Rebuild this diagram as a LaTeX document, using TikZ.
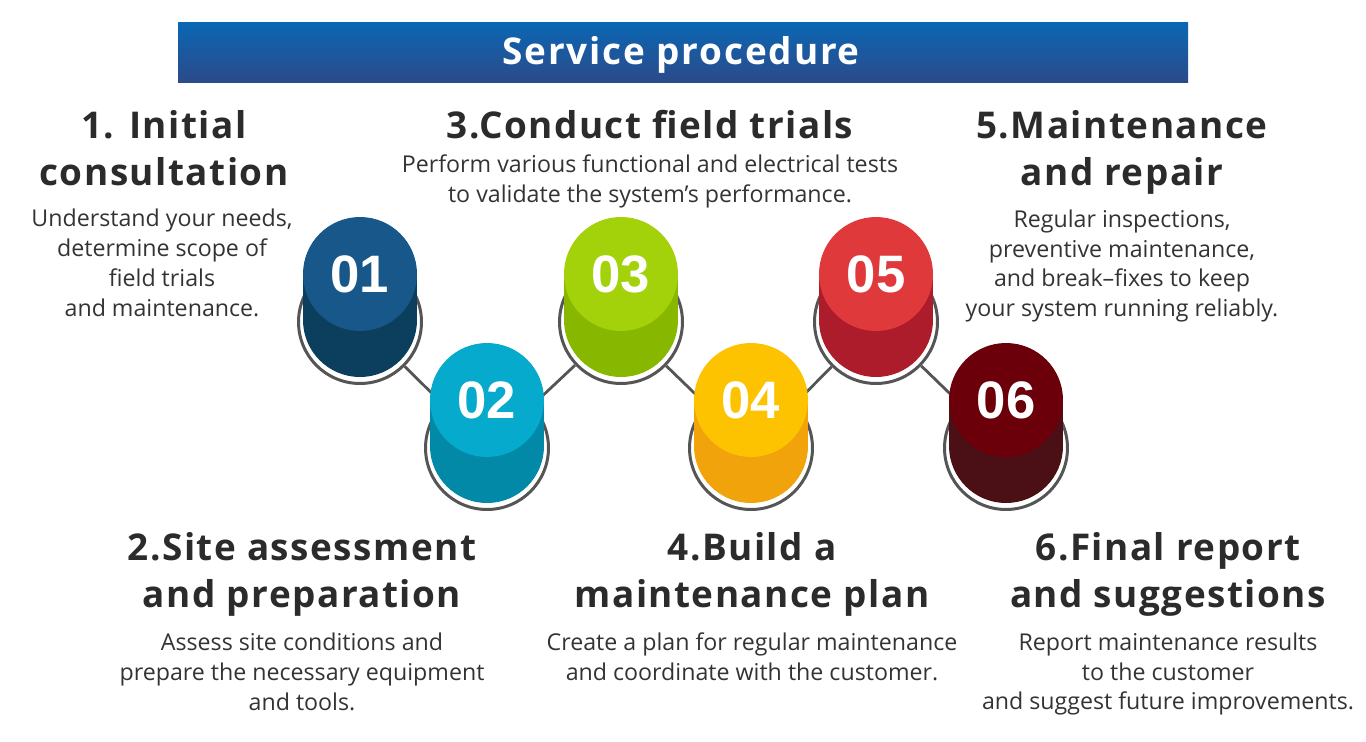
\documentclass[tikz,border=0pt]{standalone}
\usepackage{fontspec}
\setmainfont{Open Sans}[BoldFont={Open Sans Bold}]
\newfontfamily\numfont{Liberation Sans}
\newfontfamily\headfont{Open Sans Bold}[LetterSpace=4]
\newfontfamily\titlefont{Open Sans Bold}[LetterSpace=5]
\usetikzlibrary{positioning}

\definecolor{bartop}{HTML}{0A67B4}
\definecolor{barbot}{HTML}{2C4A8A}
\definecolor{headgray}{HTML}{2B2B2B}
\definecolor{descgray}{HTML}{333333}
\definecolor{ringgray}{HTML}{555555}
% top / body colours of the six steps
\definecolor{topA}{HTML}{175789}
\definecolor{bodyA}{HTML}{0C3F5E}
\definecolor{topB}{HTML}{05AACD}
\definecolor{bodyB}{HTML}{0289A7}
\definecolor{topC}{HTML}{A3D20B}
\definecolor{bodyC}{HTML}{88B700}
\definecolor{topD}{HTML}{FDC200}
\definecolor{bodyD}{HTML}{F0A30A}
\definecolor{topE}{HTML}{E0393C}
\definecolor{bodyE}{HTML}{AD1C2B}
\definecolor{topF}{HTML}{6B000B}
\definecolor{bodyF}{HTML}{4B1016}

\tikzset{
  title/.style={text=white, font=\titlefont\fontsize{21}{24}\selectfont, inner sep=0pt},
  head/.style={align=center, text=headgray, inner sep=0pt,
    font=\headfont\fontsize{21}{26.7}\selectfont},
  desc/.style={align=center, text=descgray, inner sep=0pt,
    font=\fontsize{13.2}{17}\selectfont},
  ring/.style={circle, draw=ringgray, line width=1.7pt, fill=white,
    minimum size=2.46cm, inner sep=0pt},
  link/.style={draw=ringgray, line width=1.6pt},
  stepcap/.style={circle, minimum size=2.28cm, inner sep=0pt, text=white,
    font=\numfont\fontsize{30}{31}\selectfont\bfseries},
}

\begin{document}
\begin{tikzpicture}[x=0.02cm, y=-0.02cm]
  \useasboundingbox (0,0) rectangle (1366,741);

  % 标题栏
  \shade[top color=bartop, bottom color=barbot] (178,22) rectangle (1188,82);
  \node[title] (ttl) at (681,55) {Service procedure};

  % 底部圆环
  \foreach \n/\x/\y in {1/360/274, 2/487/400, 3/621/274, 4/751/400, 5/876/274, 6/1006/400}
    \node[ring] (r\n) at (\x,\y+48) {};

  % 圆环之间的连线
  \foreach \a/\b in {1/2, 2/3, 3/4, 4/5, 5/6}
    \draw[link] (r\a) -- (r\b);

  % 圆柱
  \foreach \n/\x/\y/\ctop/\cbody in {1/360/274/topA/bodyA, 2/487/400/topB/bodyB,
      3/621/274/topC/bodyC, 4/751/400/topD/bodyD, 5/876/274/topE/bodyE, 6/1006/400/topF/bodyF}
  {
    \fill[\cbody] (\x-57,\y) rectangle (\x+57,\y+46);
    \fill[\cbody] (\x,\y+46) circle[radius=57];
    \node[stepcap, fill=\ctop] (c\n) at (\x,\y) {0\n};
  }

  % 上排文字
  \node[head] (h1) at (164,148.5) {1. Initial\\consultation};
  \node[desc] (d1) at (162,263) {Understand your needs,\\determine scope of\\field trials\\and maintenance.};
  \node[head] (h3) at (650,125) {3.Conduct field trials};
  \node[desc] (d3) at (650,181) {Perform various functional and electrical tests\\to validate the system's performance.};
  \node[head] (h5) at (1122,152.5) {5.Maintenance\\and repair};
  \node[desc] (d5) at (1122,266) {Regular inspections,\\preventive maintenance,\\and break--fixes to keep\\your system running reliably.};

  % 下排文字
  \node[head] (h2) at (302,574) {2.Site assessment\\and preparation};
  \node[desc] (d2) at (302,672) {Assess site conditions and\\prepare the necessary equipment\\and tools.};
  \node[head] (h4) at (752,574) {4.Build a\\maintenance plan};
  \node[desc] (d4) at (752,657) {Create a plan for regular maintenance\\and coordinate with the customer.};
  \node[head] (h6) at (1168,574) {6.Final report\\and suggestions};
  \node[desc] (d6) at (1168,674) {Report maintenance results\\to the customer\\and suggest future improvements.};
\end{tikzpicture}
\end{document}
